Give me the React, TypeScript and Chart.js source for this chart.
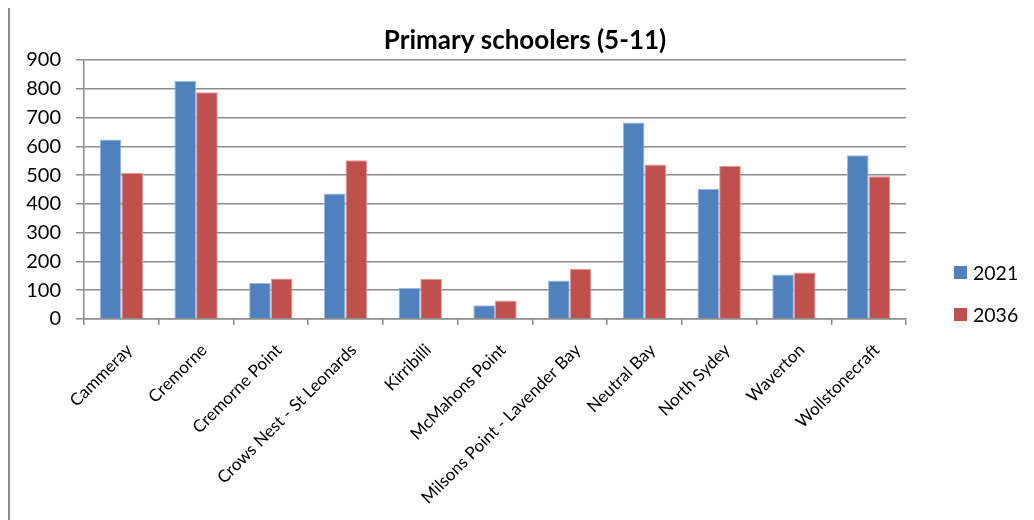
import { useEffect, useRef } from "react";
import { Chart, registerables } from "chart.js";

Chart.register(...registerables);

// Suburbs along the category axis
const suburbs = [
  "Cammeray",
  "Cremorne",
  "Cremorne Point",
  "Crows Nest - St Leonards",
  "Kirribilli",
  "McMahons Point",
  "Milsons Point - Lavender Bay",
  "Neutral Bay",
  "North Sydey",
  "Waverton",
  "Wollstonecraft",
];

const years = ["2021", "2036"];

// Primary school aged residents (5-11) per suburb
const values2021 = [624, 827, 126, 436, 108, 48, 134, 683, 453, 155, 569];
const values2036 = [507, 788, 141, 552, 140, 64, 175, 537, 532, 162, 496];

const yTicks = [0, 100, 200, 300, 400, 500, 600, 700, 800, 900];

const chartTitle = "Primary schoolers (5-11)";

const seriesFill = ["#4F81BD", "#C0504D"];
const seriesEdge = ["#9dbbe0", "#e09a98"];
const GRID = "#8c8c8c";
const FONT = "Lato, 'Open Sans', sans-serif";

// Title centred across the whole canvas, above the plot
const canvasTitle = {
  id: "canvasTitle",
  afterDraw(chart: any) {
    const { ctx } = chart;
    ctx.save();
    ctx.font = `bold 26px ${FONT}`;
    ctx.fillStyle = "#000";
    ctx.textAlign = "center";
    ctx.textBaseline = "alphabetic";
    ctx.fillText(chartTitle, chart.width / 2 + 3, chart.chartArea.top - 11.5);
    ctx.restore();
  },
};

// Legend drawn to the right of the plot, sitting near its lower edge
const sideLegend = {
  id: "sideLegend",
  afterDraw(chart: any) {
    const { ctx, chartArea } = chart;
    ctx.save();
    ctx.font = `19.5px ${FONT}`;
    ctx.textBaseline = "middle";
    ctx.textAlign = "left";
    chart.data.datasets.forEach((ds: any, i: number) => {
      const x = chartArea.right + 48;
      const y = chartArea.bottom - 46.5 + i * 42;
      ctx.fillStyle = ds.backgroundColor;
      ctx.fillRect(x, y - 6.5, 13, 13);
      ctx.fillStyle = "#000";
      ctx.fillText(ds.label, x + 19, y + 1);
    });
    ctx.restore();
  },
};

export default function App() {
  const canvasRef = useRef<HTMLCanvasElement | null>(null);

  useEffect(() => {
    document.documentElement.style.overflow = "hidden";
    document.body.style.overflow = "hidden";
    const canvas = canvasRef.current;
    if (!canvas) return;

    const chart = new Chart(canvas, {
      type: "bar",
      data: {
        labels: suburbs,
        datasets: [values2021, values2036].map((vals, i) => ({
          label: years[i],
          data: vals,
          backgroundColor: seriesFill[i],
          borderColor: seriesEdge[i],
          borderWidth: 1,
          borderSkipped: "bottom",
          categoryPercentage: 0.58,
          barPercentage: 1.0,
        })),
      },
      options: {
        responsive: false,
        animation: false,
        devicePixelRatio: 1,
        layout: { padding: { left: 0, right: 128, top: 53, bottom: 0 } },
        plugins: {
          legend: { display: false },
          tooltip: { enabled: false },
          title: { display: false },
        },
        scales: {
          x: {
            grid: {
              offset: true,
              drawOnChartArea: false,
              drawTicks: true,
              tickLength: 6,
              color: GRID,
              lineWidth: 1.5,
            },
            border: { color: GRID, width: 1.5 },
            ticks: {
              autoSkip: false,
              minRotation: 45,
              maxRotation: 45,
              color: "#000",
              padding: 15,
              labelOffset: 8,
              font: { family: FONT, size: 17 },
            },
            afterFit: (s: any) => {
              s.height = 201;
            },
          },
          y: {
            min: 0,
            max: 900,
            afterBuildTicks: (s: any) => {
              s.ticks = yTicks.map((v) => ({ value: v }));
            },
            ticks: {
              color: "#000",
              padding: 15,
              font: { family: FONT, size: 20 },
            },
            grid: { color: GRID, lineWidth: 1.5, tickLength: 8 },
            border: { color: GRID, width: 1.5 },
            afterFit: (s: any) => {
              s.width = 74;
            },
          },
        },
      },
      plugins: [canvasTitle, sideLegend],
    });

    return () => chart.destroy();
  }, []);

  return (
    <div
      style={{
        marginTop: -3,
        width: 1024,
        height: 513,
        borderLeft: `2px solid ${GRID}`,
        borderTop: `2px solid ${GRID}`,
        background: "#fff",
      }}
    >
      <canvas ref={canvasRef} width={1024} height={513} style={{ display: "block" }} />
    </div>
  );
}
